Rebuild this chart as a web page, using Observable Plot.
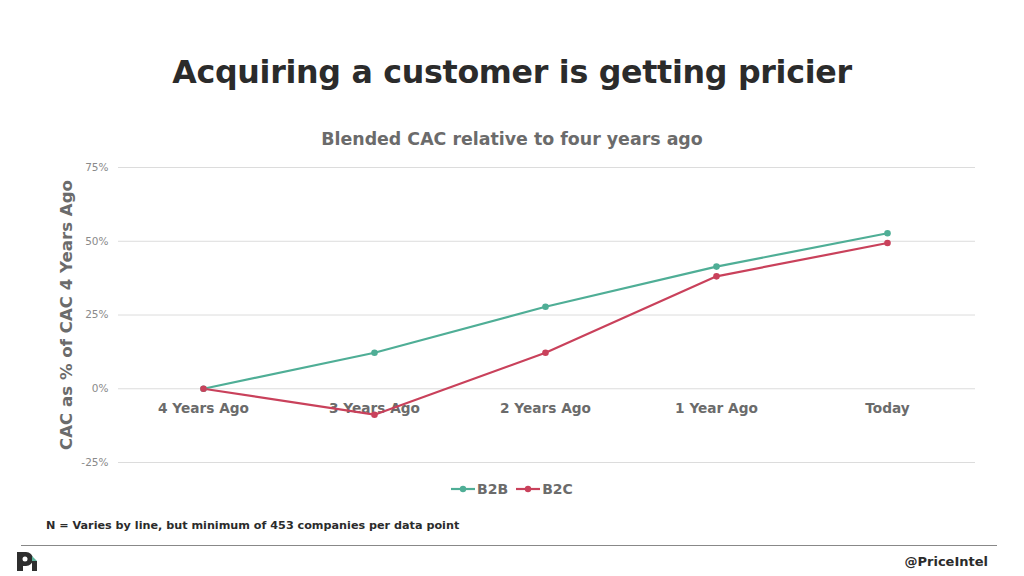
<!DOCTYPE html>
<html><head><meta charset="utf-8">
<script src="https://cdn.jsdelivr.net/npm/d3@7"></script>
<script src="https://cdn.jsdelivr.net/npm/@observablehq/plot@0.6"></script>
<style>
html,body{margin:0;padding:0;background:#fff;width:1024px;height:576px;overflow:hidden;font-family:"DejaVu Sans",sans-serif;}
#title{position:absolute;left:0;width:1024px;top:54px;text-align:center;font-size:31.7px;font-weight:bold;color:#2b2b2b;letter-spacing:-0.3px;}
#subtitle{position:absolute;left:0;width:1024px;top:129px;text-align:center;font-size:17.4px;font-weight:bold;color:#6b6b6b;}
#chart{position:absolute;left:0;top:150px;}
#legend{position:absolute;left:0;width:1024px;top:481px;display:flex;justify-content:center;gap:8px;font-size:14px;font-weight:bold;color:#6b6b6b;}
#legend span{display:inline-flex;align-items:center;gap:2px;}
#note{position:absolute;left:46px;top:519px;font-size:11.2px;font-weight:bold;color:#2b2b2b;}
#rule{position:absolute;left:21px;width:976px;top:545px;height:0;border-top:1.5px solid #888;}
#handle{position:absolute;right:36px;top:554px;font-size:13px;font-weight:bold;color:#2b2b2b;}
#logo{position:absolute;left:15px;top:549px;}
</style></head>
<body>
<div id="title">Acquiring a customer is getting pricier</div>
<div id="subtitle">Blended CAC relative to four years ago</div>
<div id="chart"></div>
<div id="legend"></div>
<div id="note">N = Varies by line, but minimum of 453 companies per data point</div>
<div id="rule"></div>
<svg id="logo" width="26" height="24" viewBox="0 0 26 24">
  <path d="M2 3 h9 a7 7 0 0 1 0 14 h-3 v5 h-6 z" fill="#2e2e2e"/>
  <circle cx="10" cy="10" r="2.5" fill="#fff"/>
  <path d="M17 7 l5 5 h-5 z" fill="#5bb39c"/>
  <rect x="17" y="12" width="5" height="10" fill="#2e2e2e"/>
</svg>
<div id="handle">@PriceIntel</div>
<script>
const periods = ["4 Years Ago", "3 Years Ago", "2 Years Ago", "1 Year Ago", "Today"];
const b2b = [0, 12.2, 27.8, 41.4, 52.7];
const b2c = [0, -8.8, 12.2, 38.1, 49.4];
const seriesNames = ["B2B", "B2C"];
const colors = ["#4fae96", "#c9415b"];
const yTicks = [-25, 0, 25, 50, 75];
const yLabel = "CAC as % of CAC 4 Years Ago";

const data = [];
periods.forEach((p, i) => {
  data.push({period: p, series: "B2B", value: b2b[i]});
  data.push({period: p, series: "B2C", value: b2c[i]});
});

const chart = Plot.plot({
  width: 1024,
  height: 330,
  marginLeft: 118,
  marginRight: 49,
  marginTop: 17,
  marginBottom: 18,
  style: {fontFamily: "'DejaVu Sans', sans-serif", background: "transparent", overflow: "visible"},
  x: {type: "point", domain: periods, range: [202, 887], padding: 0, axis: null},
  y: {domain: [-25, 75], axis: null},
  color: {domain: seriesNames, range: colors},
  marks: [
    Plot.ruleY(yTicks, {stroke: "#dcdcdc", strokeWidth: 1}),
    Plot.axisY(yTicks, {tickSize: 0, tickPadding: 10, tickFormat: d => d + "%", fontSize: 10.5, color: "#8a8a8a", label: null}),
    Plot.text(periods, {x: d => d, y: () => 0, dy: 20, text: d => d, fontSize: 13.7, fontWeight: "bold", fill: "#6b6b6b"}),
    Plot.text([yLabel], {frameAnchor: "left", textAnchor: "middle", rotate: -90, dx: -52, text: d => d, fontSize: 16.6, fontWeight: "bold", fill: "#6b6b6b"}),
    Plot.line(data, {x: "period", y: "value", z: "series", stroke: "series", strokeWidth: 2.2}),
    Plot.dot(data, {x: "period", y: "value", fill: "series", r: 3.3})
  ]
});
document.getElementById("chart").appendChild(chart);

const legend = document.getElementById("legend");
seriesNames.forEach((s, i) => {
  const span = document.createElement("span");
  span.innerHTML = `<svg width="24" height="10"><line x1="0" y1="5" x2="24" y2="5" stroke="${colors[i]}" stroke-width="2.2"/><circle cx="12" cy="5" r="3.2" fill="${colors[i]}"/></svg>${s}`;
  legend.appendChild(span);
});
</script>
</body></html>
